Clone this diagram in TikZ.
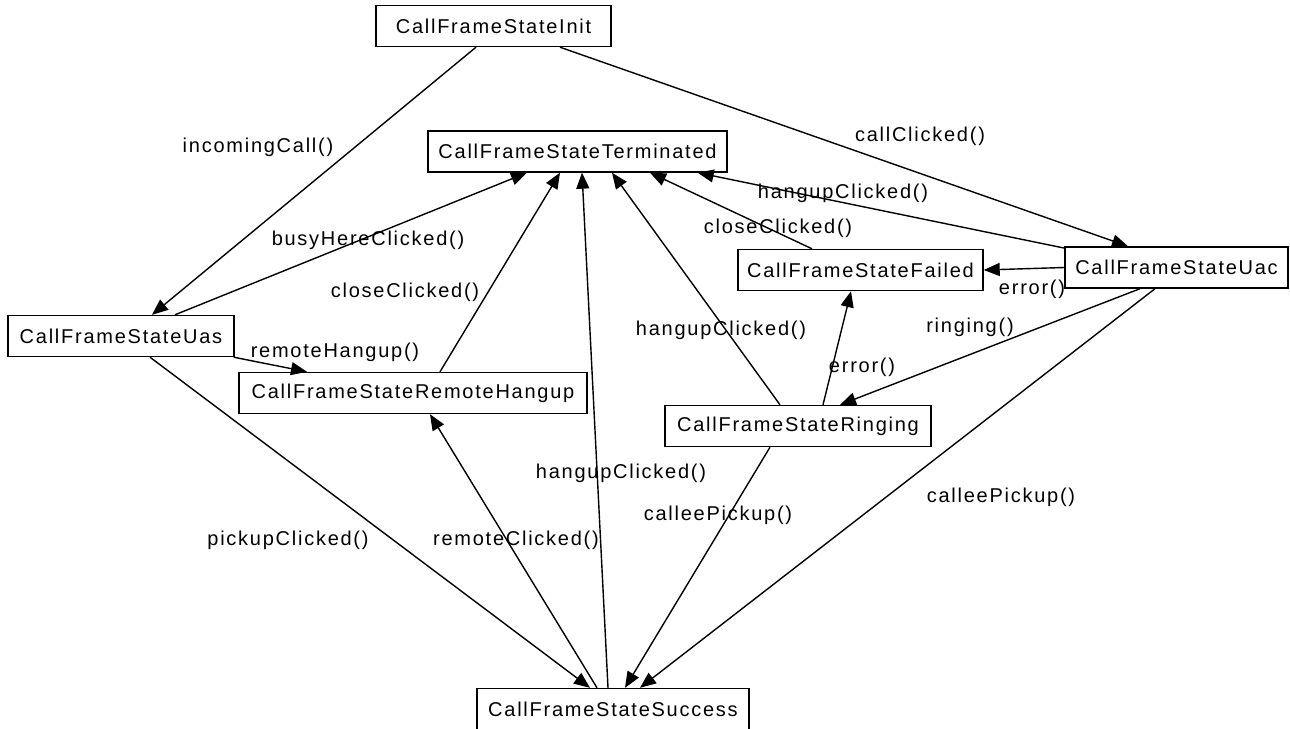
\documentclass[tikz,border=0pt]{standalone}
\usepackage{fontspec}
\setmainfont{Liberation Sans}[LetterSpace=8.75]
\usetikzlibrary{arrows.meta}
\begin{document}
\begin{tikzpicture}[x=1pt,y=-1pt,
  state/.style={draw,line width=1.4pt,minimum height=41pt,inner sep=0pt,
    font=\fontsize{20}{24}\selectfont},
  lbl/.style={inner sep=0pt,font=\fontsize{20}{24}\selectfont},
  trans/.style={line width=1.4pt,-{Triangle[length=16pt,width=13pt]}}]
\useasboundingbox[fill=white] (0,0) rectangle (1290,728);

% states
\node[state,minimum width=235pt] (init) at (493.5,26) {CallFrameStateInit};
\node[state,minimum width=299pt] (term) at (577.5,151.5) {CallFrameStateTerminated};
\node[state,minimum width=245pt] (failed) at (860.5,270) {CallFrameStateFailed};
\node[state,minimum width=223pt] (uac) at (1176.5,267.5) {CallFrameStateUac};
\node[state,minimum width=226pt] (uas) at (121,336) {CallFrameStateUas};
\node[state,minimum width=348pt] (remote) at (413,393) {CallFrameStateRemoteHangup};
\node[state,minimum width=266pt] (ringing) at (798,426) {CallFrameStateRinging};
\node[state,minimum width=272pt] (success) at (613,709) {CallFrameStateSuccess};

% transitions
\draw[trans] ([xshift=-17.5pt]init.south) -- ([xshift=31pt]uas.north);
\draw[trans] ([xshift=66.5pt]init.south) -- ([xshift=-48.5pt]uac.north);
\draw[trans] ([xshift=54pt]uas.north) -- ([xshift=-50.5pt]term.south);
\draw[trans] ([xshift=-1pt]uas.south east) -- ([xshift=-106pt]remote.north);
\draw[trans] ([xshift=29pt]uas.south) -- ([xshift=-23pt]success.north);
\draw[trans] ([xshift=27pt]remote.north) -- ([xshift=-17.5pt]term.south);
\draw[trans] ([xshift=-5pt]success.north) -- ([xshift=4.5pt]term.south);
\draw[trans] ([xshift=-16pt]success.north) -- ([xshift=17pt]remote.south);
\draw[trans] ([xshift=-18pt]ringing.north) -- ([xshift=34.5pt]term.south);
\draw[trans] ([xshift=25pt]ringing.north) -- ([xshift=-9.5pt]failed.south);
\draw[trans] ([xshift=-28pt]ringing.south) -- ([xshift=12pt]success.north);
\draw[trans] ([xshift=-48.5pt]failed.north) -- ([xshift=72.5pt]term.south);
\draw[trans] ([xshift=1pt,yshift=-2pt]uac.north west) -- ([xshift=-30pt]term.south east);
\draw[trans] (uac.west) -- (failed.east);
\draw[trans] ([xshift=-36.5pt]uac.south) -- ([xshift=42pt]ringing.north);
\draw[trans] ([xshift=-21.5pt]uac.south) -- ([xshift=27pt]success.north);

% transition labels
\node[lbl] (l1) at (258,147) {incomingCall()};
\node[lbl] (l2) at (920,136) {callClicked()};
\node[lbl] (l3) at (368,240) {busyHereClicked()};
\node[lbl] (l4) at (335,352) {remoteHangup()};
\node[lbl] (l5) at (288,540) {pickupClicked()};
\node[lbl] (l6) at (405,292) {closeClicked()};
\node[lbl] (l7) at (621,473) {hangupClicked()};
\node[lbl] (l8) at (516,540) {remoteClicked()};
\node[lbl] (l9) at (721,330) {hangupClicked()};
\node[lbl] (l10) at (862,367) {error()};
\node[lbl] (l11) at (718,515) {calleePickup()};
\node[lbl] (l12) at (778,228) {closeClicked()};
\node[lbl] (l13) at (843,193) {hangupClicked()};
\node[lbl] (l14) at (1032,289) {error()};
\node[lbl] (l15) at (970,327) {ringing()};
\node[lbl] (l16) at (1001,497) {calleePickup()};
\end{tikzpicture}
\end{document}
